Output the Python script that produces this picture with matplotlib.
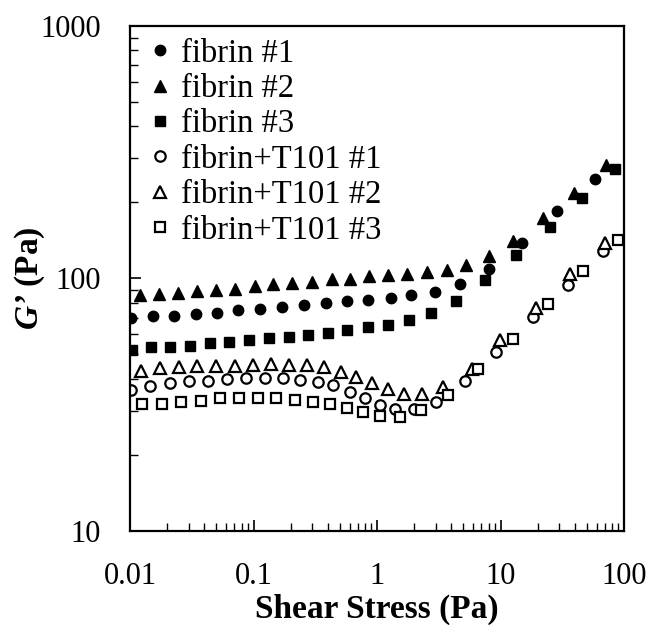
import matplotlib
matplotlib.use('Agg')
import matplotlib.pyplot as plt
from matplotlib.ticker import LogLocator, FixedLocator, NullFormatter

plt.rcParams['font.family'] = ['Liberation Serif', 'DejaVu Serif']
plt.rcParams['mathtext.fontset'] = 'custom'
plt.rcParams['mathtext.rm'] = 'Liberation Serif'
plt.rcParams['mathtext.it'] = 'Liberation Serif:italic'
plt.rcParams['mathtext.bf'] = 'Liberation Serif:bold'
plt.rcParams['mathtext.bfit'] = 'Liberation Serif:italic:bold'

# fibrin #1 (filled circles)
x_f1 = [0.0101, 0.0154, 0.0226, 0.0340, 0.0506, 0.0749, 0.1135, 0.170, 0.255, 0.384,
        0.572, 0.850, 1.29, 1.90, 2.93, 4.67, 8.03, 14.9, 28.9, 57.7]
g_f1 = [69.6, 71.1, 71.1, 72.3, 73.3, 74.8, 76.0, 77.1, 78.8, 79.7,
        81.2, 82.1, 83.8, 85.7, 88.1, 94.7, 108.8, 137.7, 185.2, 248.3]

# fibrin #2 (filled triangles)
x_f2 = [0.0120, 0.0172, 0.0245, 0.0349, 0.0497, 0.0709, 0.1023, 0.144, 0.205, 0.299,
        0.430, 0.608, 0.857, 1.23, 1.76, 2.54, 3.69, 5.29, 8.07, 12.6, 22.1, 39.4, 71.1]
g_f2 = [85.7, 87.1, 87.8, 89.1, 89.9, 91.1, 93.3, 94.7, 96.2, 97.1,
        99.1, 99.7, 102.1, 102.8, 103.7, 105.9, 108.5, 113.5, 122.4, 140.3, 173.4, 217.5, 281.1]

# fibrin #3 (filled squares)
x_f3 = [0.0104, 0.0149, 0.0210, 0.0306, 0.0444, 0.0633, 0.0914, 0.133, 0.193, 0.276,
        0.401, 0.575, 0.845, 1.23, 1.81, 2.72, 4.39, 7.45, 13.4, 25.0, 45.7, 85.0]
g_f3 = [52.1, 53.4, 53.4, 54.1, 55.3, 55.8, 57.0, 58.1, 58.9, 59.8,
        61.1, 62.6, 64.0, 65.5, 68.5, 73.3, 81.4, 98.2, 124.3, 160.6, 207.8, 270.3]

# fibrin+T101 #1 (open circles)
x_t1 = [0.0102, 0.0144, 0.0210, 0.0300, 0.0428, 0.0610, 0.0870, 0.123, 0.173, 0.238,
        0.330, 0.440, 0.599, 0.800, 1.05, 1.39, 1.99, 3.03, 5.16, 9.28, 18.3, 35.2, 67.0]
g_t1 = [36.3, 37.5, 38.4, 39.1, 39.4, 39.9, 40.2, 40.2, 40.3, 39.8,
        38.9, 37.7, 35.6, 33.6, 31.6, 30.4, 30.3, 32.5, 39.1, 51.0, 70.3, 94.3, 128.1]

# fibrin+T101 #2 (open triangles)
x_t2 = [0.0122, 0.0174, 0.0248, 0.0349, 0.0497, 0.0705, 0.0991, 0.139, 0.194, 0.271,
        0.370, 0.508, 0.680, 0.911, 1.23, 1.65, 2.31, 3.42, 5.91, 9.91, 19.5, 36.5, 70.2]
g_t2 = [43.2, 44.1, 44.5, 44.9, 44.9, 44.9, 45.5, 45.9, 45.5, 45.5,
        44.5, 42.5, 40.7, 38.6, 36.6, 34.9, 35.0, 37.1, 43.8, 57.0, 76.7, 103.7, 138.2]

# fibrin+T101 #3 (open squares)
x_t3 = [0.0125, 0.0181, 0.0261, 0.0377, 0.0539, 0.0770, 0.109, 0.153, 0.218, 0.304,
        0.418, 0.572, 0.773, 1.06, 1.54, 2.29, 3.77, 6.60, 12.6, 24.3, 46.7, 88.9]
g_t3 = [31.7, 31.9, 32.5, 32.7, 33.5, 33.5, 33.6, 33.5, 33.0, 32.4,
        31.9, 30.6, 29.5, 28.6, 28.4, 30.2, 34.5, 43.8, 57.5, 79.0, 106.8, 142.4]

xticks = [0.01, 0.1, 1, 10, 100]
xticklabels = ['0.01', '0.1', '1', '10', '100']
yticks = [10, 100, 1000]
yticklabels = ['10', '100', '1000']

fig = plt.figure(figsize=(6.5, 6.35), dpi=100)
ax = fig.add_axes([0.2, 0.1638, 0.7600, 0.7953])

ms = 7.5
ax.plot(x_f1, g_f1, 'o', color='black', ms=ms, label='fibrin #1')
ax.plot(x_f2, g_f2, '^', color='black', ms=ms + 1, label='fibrin #2')
ax.plot(x_f3, g_f3, 's', color='black', ms=ms - 0.5, label='fibrin #3')
ax.plot(x_t1, g_t1, 'o', mfc='white', mec='black', mew=1.6, ms=ms, label='fibrin+T101 #1')
ax.plot(x_t2, g_t2, '^', mfc='white', mec='black', mew=1.6, ms=ms + 1, label='fibrin+T101 #2')
ax.plot(x_t3, g_t3, 's', mfc='white', mec='black', mew=1.6, ms=ms - 0.5, label='fibrin+T101 #3')

ax.set_xscale('log')
ax.set_yscale('log')
ax.set_xlim(0.01, 100)
ax.set_ylim(10, 1000)

ax.xaxis.set_major_locator(FixedLocator(xticks))
ax.set_xticklabels(xticklabels)
ax.yaxis.set_major_locator(FixedLocator(yticks))
ax.set_yticklabels(yticklabels)
ax.xaxis.set_minor_locator(LogLocator(base=10, subs=range(2, 10), numticks=20))
ax.yaxis.set_minor_locator(LogLocator(base=10, subs=range(2, 10), numticks=20))
ax.xaxis.set_minor_formatter(NullFormatter())
ax.yaxis.set_minor_formatter(NullFormatter())

ax.tick_params(axis='both', which='major', direction='in', length=8, width=1.2,
               labelsize=22, top=False, right=False)
ax.tick_params(axis='both', which='minor', direction='in', length=6, width=1.0,
               top=False, right=False)
ax.tick_params(axis='x', which='major', pad=22)
ax.tick_params(axis='y', which='major', pad=21)

for s in ax.spines.values():
    s.set_linewidth(1.6)

ax.set_xlabel('Shear Stress (Pa)', fontsize=24, fontweight='bold', labelpad=2)
ax.set_ylabel("$\\mathbfit{G\u2019}$ (Pa)", fontsize=24, fontweight='bold')
ax.yaxis.set_label_coords(-0.168, 0.5)

ax.legend(loc='upper left', bbox_to_anchor=(0.028, 0.976), frameon=False, fontsize=23.5,
          handletextpad=0.15, markerscale=1.0, labelspacing=0.15, borderaxespad=0,
          borderpad=0, handlelength=1.0)

fig.savefig('out.png', dpi=100)
